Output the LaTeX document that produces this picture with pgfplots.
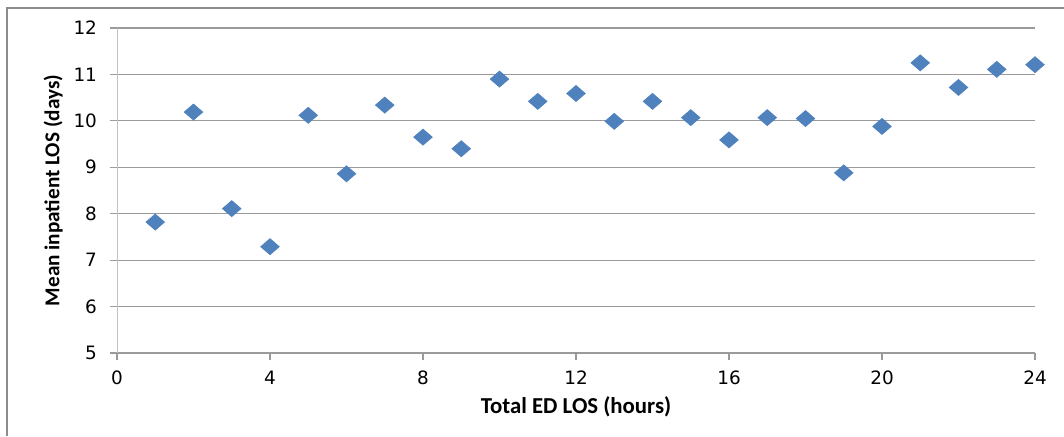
\documentclass[border=0pt]{standalone}
\usepackage{pgfplots}
\pgfplotsset{compat=1.18}
\usepackage{fontspec}
\setmainfont{Carlito}
\newfontfamily\tickfont{DejaVu Sans}
\definecolor{markblue}{HTML}{4F81BD}
\definecolor{gridgray}{HTML}{9A9A9A}
\definecolor{framegray}{HTML}{8C8C8C}

\pgfplotstableread{
x y
1 7.82
2 10.19
3 8.11
4 7.29
5 10.12
6 8.86
7 10.34
8 9.65
9 9.40
10 10.90
11 10.42
12 10.59
13 9.99
14 10.42
15 10.07
16 9.59
17 10.07
18 10.05
19 8.88
20 9.88
21 11.25
22 10.72
23 11.11
24 11.21
}\losdata

\begin{document}
\begin{tikzpicture}
\useasboundingbox (0,0) rectangle (532pt,218pt);
% chart frame
\draw[framegray, line width=0.6pt] (3.5pt,0) -- (3.5pt,214pt) -- (534pt,214pt);
\begin{axis}[
  at={(58.5pt,41.5pt)}, anchor=south west,
  width=459pt, height=162.5pt, scale only axis,
  xmin=0, xmax=24, ymin=5, ymax=12,
  xtick={0,4,...,24}, ytick={5,...,12},
  axis x line*=bottom, axis y line*=left,
  axis line style={draw=none},
  x axis line style={draw=gridgray},
  y axis line style={draw=gridgray!60},
  ymajorgrids, grid style={gridgray, line width=0.6pt},
  tick align=outside, tick style={gridgray, line width=0.6pt},
  major tick length=3.5pt,
  tick label style={font=\tickfont\fontsize{9.2}{10}\selectfont},
  /pgf/number format/assume math mode=true,
  xticklabel style={yshift=-2pt},
  yticklabel style={xshift=-3pt},
  xlabel={\bfseries Total ED LOS (hours)},
  ylabel={\bfseries Mean inpatient LOS (days)},
  xlabel style={font=\fontsize{11.4}{13}\selectfont, yshift=1pt},
  ylabel style={font=\fontsize{10.6}{12}\selectfont, yshift=-1.5pt},
]
\addplot[only marks, mark=diamond*, mark size=4.6pt,
  mark options={rotate=90, xscale=1.15, fill=markblue, draw=markblue}]
  table[x=x, y=y] {\losdata};
\end{axis}
\end{tikzpicture}
\end{document}
